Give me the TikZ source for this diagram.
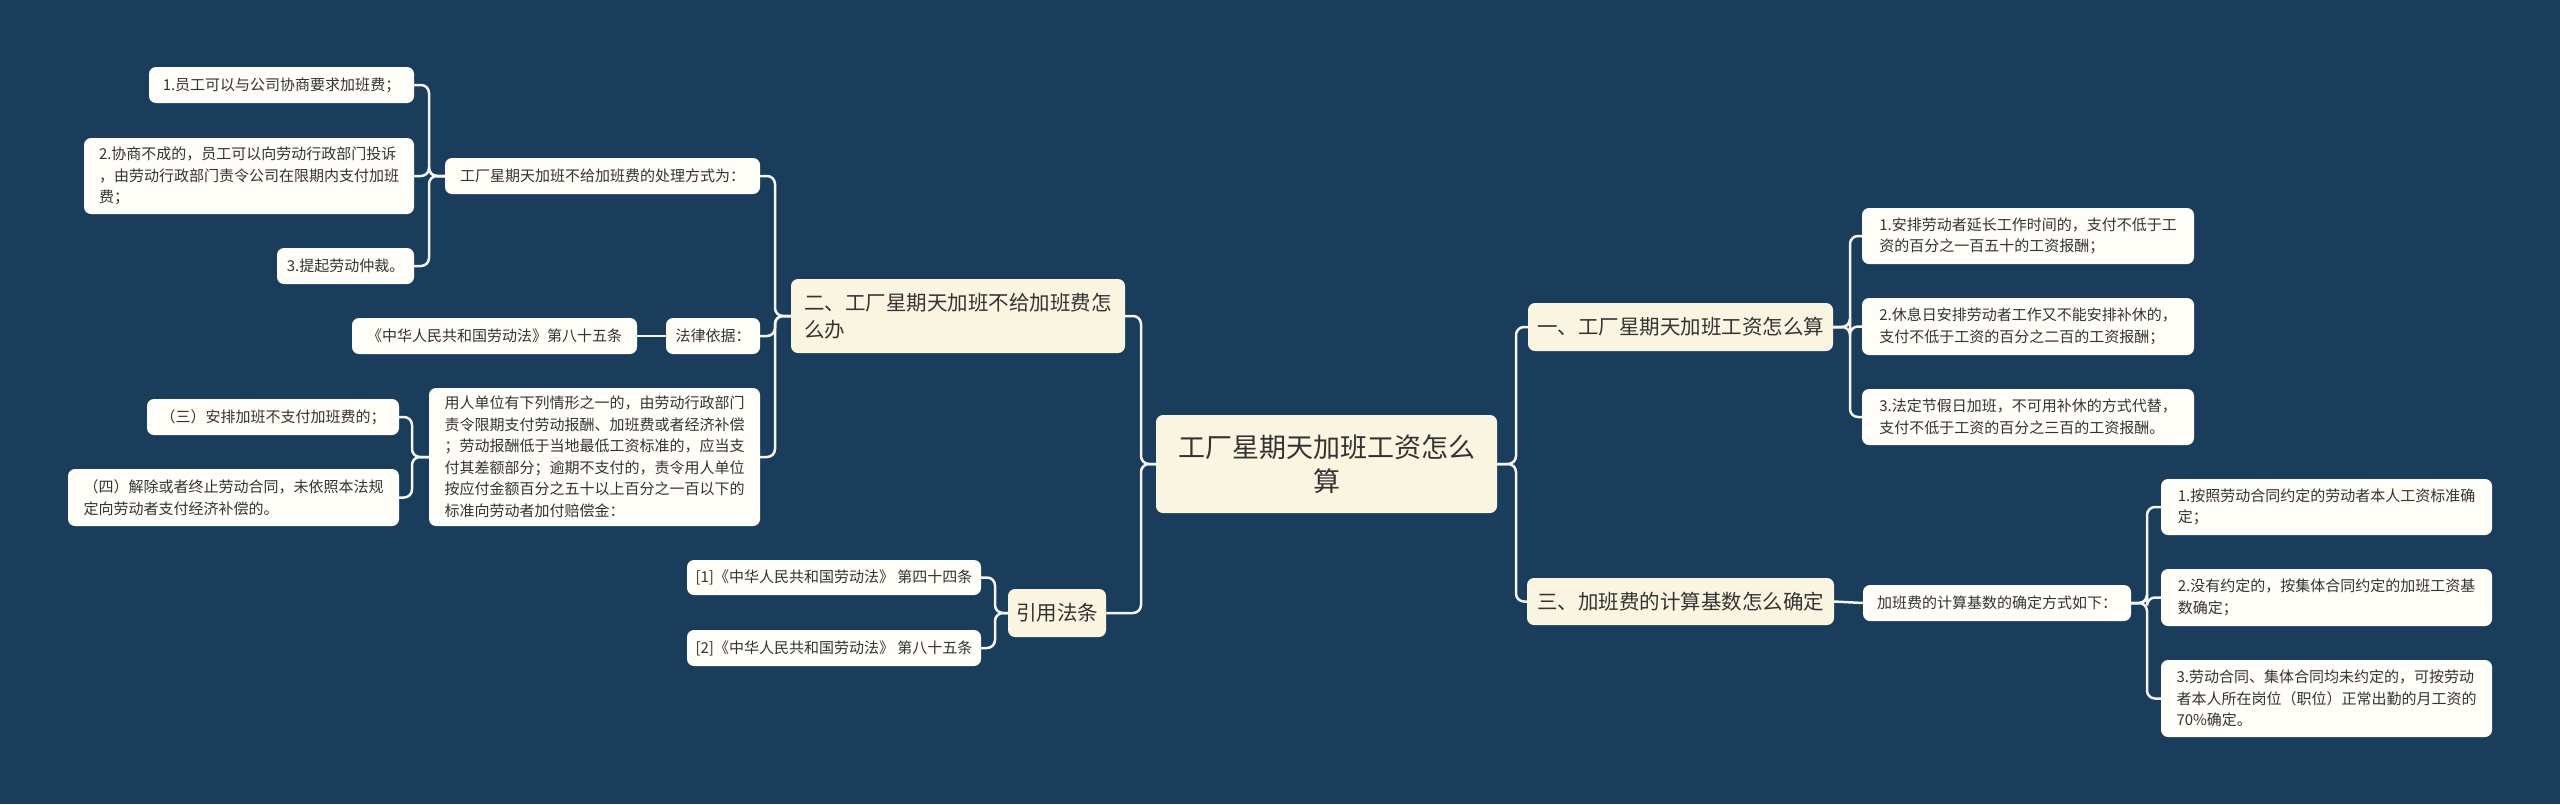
\documentclass[tikz,border=0pt]{standalone}
\usepackage{fontspec}
\setmainfont{Noto Sans CJK SC}
\definecolor{bg}{HTML}{1B3D5C}
\definecolor{cream}{HTML}{FAF5E1}
\definecolor{leafc}{HTML}{FFFDF7}
\definecolor{txt}{HTML}{333333}
\definecolor{linec}{HTML}{F4F4F0}
\newcommand\mkbox[7]{\node[#2, minimum width={#4-#3}, minimum height={#6-#5}] (#1) at ({(#3+#4)/2},{(#5+#6)/2}) {#7};}
\begin{document}
\begin{tikzpicture}[x=1pt,y=-1pt,
  basebox/.style={rounded corners=7pt, align=left, inner sep=0pt, outer sep=0pt, text=txt},
  rootbox/.style={basebox, fill=cream, align=center, font=\fontsize{27pt}{34pt}\selectfont},
  mainbox/.style={basebox, fill=cream, font=\fontsize{20.5pt}{27pt}\selectfont},
  leafbox/.style={basebox, fill=leafc, font=\fontsize{15pt}{21.5pt}\selectfont},
  conn/.style={draw=linec, line width=2.5pt, rounded corners=8pt}]
\useasboundingbox[fill=bg] (0,0) rectangle (2560,804);

% root and main branches
\mkbox{root}{rootbox}{1156}{1497}{415}{513}{工厂星期天加班工资怎么\\算}
\mkbox{two}{mainbox}{791}{1125}{279}{353}{二、工厂星期天加班不给加班费怎\\么办}
\mkbox{one}{mainbox}{1528}{1833}{303}{351}{一、工厂星期天加班工资怎么算}
\mkbox{three}{mainbox}{1527}{1834}{578}{625}{三、加班费的计算基数怎么确定}
\mkbox{cite}{mainbox}{1008}{1106}{589}{637}{引用法条}

% right upper leaves
\mkbox{ra}{leafbox}{1862}{2194}{208}{264}{1.安排劳动者延长工作时间的，支付不低于工\\资的百分之一百五十的工资报酬；}
\mkbox{rb}{leafbox}{1862}{2194}{298}{355}{2.休息日安排劳动者工作又不能安排补休的，\\支付不低于工资的百分之二百的工资报酬；}
\mkbox{rc}{leafbox}{1862}{2194}{389}{445}{3.法定节假日加班，不可用补休的方式代替，\\支付不低于工资的百分之三百的工资报酬。}

% right lower
\mkbox{base}{leafbox}{1863}{2131}{585}{621}{加班费的计算基数的确定方式如下：}
\mkbox{sa}{leafbox}{2161}{2492}{479}{535}{1.按照劳动合同约定的劳动者本人工资标准确\\定；}
\mkbox{sb}{leafbox}{2161}{2492}{569}{626}{2.没有约定的，按集体合同约定的加班工资基\\数确定；}
\mkbox{sc}{leafbox}{2161}{2492}{660}{737}{3.劳动合同、集体合同均未约定的，可按劳动\\者本人所在岗位（职位）正常出勤的月工资的\\70\%确定。}

% left side
\mkbox{way}{leafbox}{445}{760}{158}{194}{工厂星期天加班不给加班费的处理方式为：}
\mkbox{law}{leafbox}{666}{760}{318}{354}{法律依据：}
\mkbox{para}{leafbox}{429}{760}{388}{526}{用人单位有下列情形之一的，由劳动行政部门\\责令限期支付劳动报酬、加班费或者经济补偿\\；劳动报酬低于当地最低工资标准的，应当支\\付其差额部分；逾期不支付的，责令用人单位\\按应付金额百分之五十以上百分之一百以下的\\标准向劳动者加付赔偿金：}
\mkbox{la}{leafbox}{149}{414}{67}{103}{1.员工可以与公司协商要求加班费；}
\mkbox{lb}{leafbox}{84}{414}{138}{214}{2.协商不成的，员工可以向劳动行政部门投诉\\，由劳动行政部门责令公司在限期内支付加班\\费；}
\mkbox{lc}{leafbox}{277}{414}{248}{284}{3.提起劳动仲裁。}
\mkbox{art}{leafbox}{352}{637}{318}{354}{《中华人民共和国劳动法》第八十五条}
\mkbox{pa}{leafbox}{147}{399}{399}{435}{（三）安排加班不支付加班费的；}
\mkbox{pb}{leafbox}{68}{399}{469}{526}{（四）解除或者终止劳动合同，未依照本法规\\定向劳动者支付经济补偿的。}
\mkbox{ca}{leafbox}{687}{981}{560}{595}{[1]《中华人民共和国劳动法》 第四十四条}
\mkbox{cb}{leafbox}{687}{981}{630}{666}{[2]《中华人民共和国劳动法》 第八十五条}

% connectors
\draw[conn] (root.east) -- ++(19,0) |- (one.west);
\draw[conn] (root.east) -- ++(19,0) |- (three.west);
\draw[conn] (root.west) -- ++(-15,0) |- (two.east);
\draw[conn] (root.west) -- ++(-15,0) |- (cite.east);

\draw[conn] (one.east) -- ++(17,0) |- (ra.west);
\draw[conn] (one.east) -- ++(17,0) |- (rb.west);
\draw[conn] (one.east) -- ++(17,0) |- (rc.west);

\draw[conn] (three.east) -- (base.west);
\draw[conn] (base.east) -- ++(16,0) |- (sa.west);
\draw[conn] (base.east) -- ++(16,0) |- (sb.west);
\draw[conn] (base.east) -- ++(16,0) |- (sc.west);

\draw[conn] (two.west) -- ++(-16,0) |- (way.east);
\draw[conn] (two.west) -- ++(-16,0) |- (law.east);
\draw[conn] (two.west) -- ++(-16,0) |- (para.east);

\draw[conn] (way.west) -- ++(-16,0) |- (la.east);
\draw[conn] (way.west) -- ++(-16,0) |- (lb.east);
\draw[conn] (way.west) -- ++(-16,0) |- (lc.east);

\draw[conn] (law.west) -- (art.east);

\draw[conn] (para.west) -- ++(-17,0) |- (pa.east);
\draw[conn] (para.west) -- ++(-17,0) |- (pb.east);

\draw[conn] (cite.west) -- ++(-13,0) |- (ca.east);
\draw[conn] (cite.west) -- ++(-13,0) |- (cb.east);
\end{tikzpicture}
\end{document}
